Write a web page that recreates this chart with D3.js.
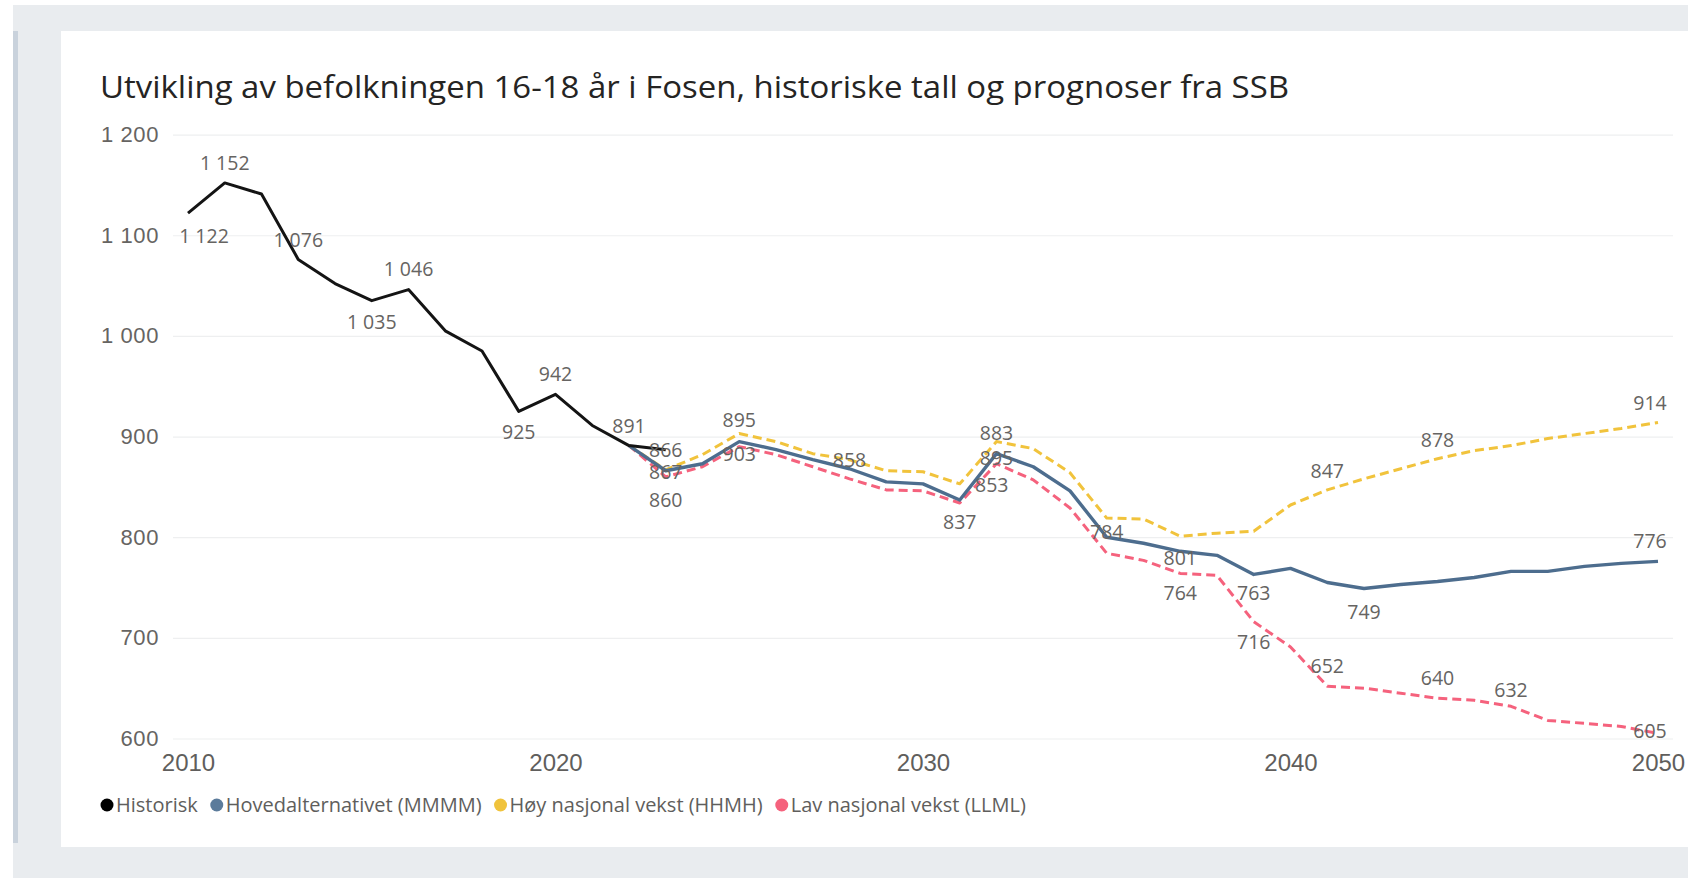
<!DOCTYPE html>
<html>
<head>
<meta charset="utf-8">
<script src="https://cdn.jsdelivr.net/npm/d3@7"></script>
<style>
  body { margin: 0; background: #fff; }
  svg { display: block; font-family: "Segoe UI", "Open Sans", sans-serif; }
</style>
</head>
<body>
<div id="chart"></div>
<script>
const title = 'Utvikling av befolkningen 16-18 år i Fosen, historiske tall og prognoser fra SSB';

const histYears = [2010, 2011, 2012, 2013, 2014, 2015, 2016, 2017, 2018, 2019, 2020, 2021, 2022, 2023];
const historisk = [1122, 1152, 1141, 1076, 1052, 1035, 1046, 1005, 985, 925, 942, 911, 891, 887];

const progYears = [2022, 2023, 2024, 2025, 2026, 2027, 2028, 2029, 2030, 2031, 2032, 2033, 2034, 2035, 2036,
  2037, 2038, 2039, 2040, 2041, 2042, 2043, 2044, 2045, 2046, 2047, 2048, 2049, 2050];
const hoved = [891, 866, 873, 895, 887, 877, 868, 855, 853, 837, 883, 870, 846, 800, 794,
  786, 782, 763, 769, 755, 749, 753, 756, 760, 766, 766, 771, 774, 776];
const hoy = [891, 867, 882, 903, 895, 883, 877, 866, 865, 853, 895, 888, 864, 819, 818,
  801, 804, 806, 832, 847, 858, 868, 878, 886, 891, 898, 903, 908, 914];
const lav = [891, 860, 870, 890, 882, 870, 858, 847, 846, 834, 873, 857, 829, 784, 777,
  764, 762, 716, 691, 652, 650, 645, 640, 638, 632, 618, 615, 612, 605];

const yTicks = [600, 700, 800, 900, 1000, 1100, 1200];
const xTicks = [2010, 2020, 2030, 2040, 2050];
const legendNames = ['Historisk', 'Hovedalternativet (MMMM)', 'Høy nasjonal vekst (HHMH)', 'Lav nasjonal vekst (LLML)'];

// which points carry a data label (placement offsets kept separately)
const labelled = {
  hist: [2010, 2011, 2013, 2015, 2016, 2019, 2020, 2022],
  hoved: [2023, 2025, 2031, 2032, 2039, 2042, 2050],
  hoy: [2023, 2025, 2031, 2032, 2037, 2041, 2044, 2050],
  lav: [2023, 2028, 2035, 2037, 2039, 2041, 2044, 2046, 2050]
};
const labelOffset = {
  'hist-2010': [16, 23], 'hist-2011': [0, -20], 'hist-2013': [0, -19], 'hist-2015': [0, 22],
  'hist-2016': [0, -20], 'hist-2019': [0, 21], 'hist-2020': [0, -20], 'hist-2022': [0, -19],
  'hoved-2023': [0, -21], 'hoved-2025': [0, -21], 'hoved-2031': [0, 22], 'hoved-2032': [0, -20],
  'hoved-2039': [0, 19], 'hoved-2042': [0, 24], 'hoved-2050': [-8, -20],
  'hoy-2023': [0, 2], 'hoy-2025': [0, 21], 'hoy-2031': [32, 1], 'hoy-2032': [0, 17],
  'hoy-2037': [0, 22], 'hoy-2041': [0, -19], 'hoy-2044': [0, -19], 'hoy-2050': [-8, -19],
  'lav-2023': [0, 23], 'lav-2028': [0, -19], 'lav-2035': [0, -21], 'lav-2037': [0, 20],
  'lav-2039': [0, 20], 'lav-2041': [0, -20], 'lav-2044': [0, -20], 'lav-2046': [0, -16], 'lav-2050': [-8, -2]
};

const W = 1688, H = 878;
const svg = d3.select('#chart').append('svg').attr('width', W).attr('height', H);

// page frame
svg.append('rect').attr('x', 13).attr('y', 5).attr('width', W - 13).attr('height', H - 5).attr('fill', '#e9ecef');
svg.append('rect').attr('x', 61).attr('y', 31).attr('width', W - 61).attr('height', 816).attr('fill', '#fff');
svg.append('rect').attr('x', 13).attr('y', 31).attr('width', 5).attr('height', 812).attr('fill', '#c9d2dc');

const t = svg.append('text').attr('x', 100).attr('y', 98)
  .attr('font-size', 31).attr('fill', '#252423').text(title);
const tw = t.node().getComputedTextLength();
if (Math.abs(tw - 1189) > 4) t.attr('textLength', 1189).attr('lengthAdjust', 'spacingAndGlyphs');

const x = d3.scaleLinear().domain([2010, 2050]).range([188, 1658]);
const y = d3.scaleLinear().domain([600, 1200]).range([738.5, 134.6]);

const nf = d3.formatLocale({ decimal: ',', thousands: '\u00a0', grouping: [3], currency: ['', ' kr'] }).format(',d');

const gy = svg.append('g').attr('transform', 'translate(173,0)')
  .call(d3.axisLeft(y).tickValues(yTicks).tickSize(-1500).tickPadding(14).tickFormat(nf));
gy.select('.domain').remove();
gy.selectAll('line').attr('stroke', '#eeeff0').attr('stroke-width', 1.2);
gy.selectAll('text').attr('font-size', 22).attr('letter-spacing', 0.6)
  .attr('fill', '#666462').attr('font-family', null);

const gx = svg.append('g').attr('transform', 'translate(0,738.5)')
  .call(d3.axisBottom(x).tickValues(xTicks).tickSize(0).tickPadding(15).tickFormat(d3.format('d')));
gx.select('.domain').remove();
gx.selectAll('text').attr('font-size', 24).attr('fill', '#605e5c').attr('font-family', null);

const series = [
  { key: 'lav', years: progYears, vals: lav, color: '#f5627d', dash: '9,5' },
  { key: 'hoy', years: progYears, vals: hoy, color: '#f1c33c', dash: '9,5' },
  { key: 'hoved', years: progYears, vals: hoved, color: '#4d6d8e', dash: null },
  { key: 'hist', years: histYears, vals: historisk, color: '#141414', dash: null }
];

const line = d3.line().x(d => x(d[0])).y(d => y(d[1]));

series.forEach(s => {
  svg.append('path')
    .datum(s.years.map((yr, i) => [yr, s.vals[i]]))
    .attr('fill', 'none')
    .attr('stroke', s.color)
    .attr('stroke-width', s.key === 'hoved' ? 3.4 : 3)
    .attr('stroke-linejoin', 'round')
    .attr('stroke-dasharray', s.dash)
    .attr('d', line);
});

const lab = svg.append('g').attr('font-size', 19.5).attr('fill', '#666462').attr('text-anchor', 'middle');
series.forEach(s => {
  labelled[s.key].forEach(yr => {
    const v = s.vals[s.years.indexOf(yr)];
    const off = labelOffset[s.key + '-' + yr];
    lab.append('text')
      .attr('x', x(yr) + off[0])
      .attr('y', y(v) + off[1])
      .attr('dy', '0.35em')
      .text(nf(v));
  });
});

// legend
const legendColors = ['#000000', '#5b7b9b', '#f0c33c', '#f5627d'];
const lg = svg.append('g').attr('transform', 'translate(107,805)');
let lx = 0;
legendNames.forEach((name, i) => {
  const item = lg.append('g').attr('transform', `translate(${lx},0)`);
  item.append('circle').attr('r', 6.5).attr('fill', legendColors[i]);
  const tx = item.append('text').attr('x', 9).attr('dy', '0.35em')
    .attr('font-size', 20).attr('fill', '#605e5c').text(name);
  lx += 9 + tx.node().getComputedTextLength() + 19;
});
</script>
</body>
</html>
